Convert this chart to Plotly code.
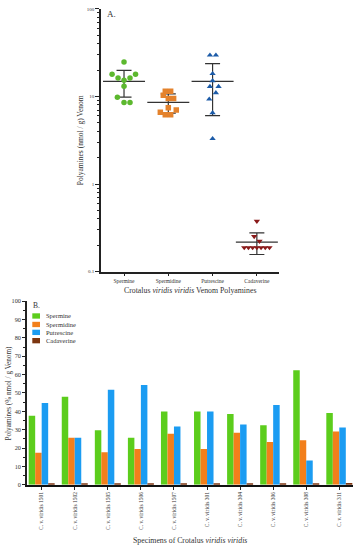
import plotly.graph_objects as go
import numpy as np

# ---------------- Panel A data (nmol / g venom) ----------------
amines = ["Spermine", "Spermidine", "Putrescine", "Cadaverine"]
spermine = [24.7, 17.9, 17.9, 16.3, 16.3, 15.3, 13.1, 9.8, 8.55, 8.55]
spermidine = [11.5, 11.5, 10.3, 9.5, 9.5, 7.45, 7.0, 6.6, 6.2, 6.2]
putrescine = [29.6, 29.6, 18.2, 15.1, 13.0, 13.0, 11.0, 9.3, 6.5, 3.3]
cadaverine = [0.376, 0.252, 0.222, 0.188, 0.188, 0.188, 0.188, 0.188, 0.188, 0.188]

# horizontal scatter offsets (category units) of the dot plot
jit_spermine = [0, -0.27, 0.26, -0.135, 0.135, 0, 0, -0.15, 0, 0.135]
jit_spermidine = [-0.068, 0.053, -0.113, 0, 0.12, 0, 0.18, -0.18, -0.068, 0.053]
jit_putrescine = [-0.06, 0.075, 0, 0, -0.06, 0.135, 0.075, -0.075, 0, 0]
jit_cadaverine = [0, -0.06, 0.06, -0.285, -0.19, -0.095, 0, 0.095, 0.19, 0.285]

# ---------------- Panel B data (% nmol / g venom) ----------------
specimens = ["C. v. viridis 1501", "C. v. viridis 1502", "C. v. viridis 1505",
             "C. v. viridis 1506", "C. v. viridis 1507", "C. v. viridis 301",
             "C. v. viridis 304", "C. v. viridis 306", "C. v. viridis 308",
             "C. v. viridis 311"]
pct_spermine = [37.6, 48.0, 29.7, 25.6, 39.9, 39.9, 38.5, 32.4, 62.4, 39.1]
pct_spermidine = [17.4, 25.6, 17.7, 19.5, 27.8, 19.5, 28.3, 23.3, 24.2, 29.0]
pct_putrescine = [44.6, 25.6, 51.8, 54.3, 31.7, 39.9, 32.8, 43.5, 13.3, 31.2]
pct_cadaverine = [0.5, 0.6, 0.5, 0.6, 0.6, 0.5, 0.6, 0.6, 0.5, 1.0]

W, H = 358, 550
FONT = "Liberation Serif"
TXT = "#333333"

def px(x):
    return x / W

def py(y):
    return 1 - y / H

fig = go.Figure()

# ---- Panel A: mean +/- SD ----
groups = [spermine, spermidine, putrescine, cadaverine]
means = [float(np.mean(g)) for g in groups]
sds = [float(np.std(g, ddof=1)) for g in groups]

fig.add_trace(go.Scatter(
    x=list(range(len(amines))), y=means, mode="markers",
    marker=dict(symbol="line-ew", size=30, line=dict(width=1.2, color="#333333")),
    error_y=dict(type="data", array=sds, visible=True, width=7.5,
                 thickness=1.2, color="#333333"),
    xaxis="x", yaxis="y", showlegend=False, hoverinfo="skip"))

styles = [
    (spermine, jit_spermine, "circle", "#5cb82e"),
    (spermidine, jit_spermidine, "square", "#e4822c"),
    (putrescine, jit_putrescine, "triangle-up", "#1c5ba8"),
    (cadaverine, jit_cadaverine, "triangle-down", "#8a1a1a"),
]
for i, (vals, jit, sym, col) in enumerate(styles):
    fig.add_trace(go.Scatter(
        x=[i + j for j in jit], y=vals, mode="markers",
        marker=dict(symbol=sym, size=5.5, color=col, line=dict(width=0)),
        xaxis="x", yaxis="y", showlegend=False, name=amines[i]))

# ---- Panel B: grouped bars ----
bar_sets = [
    ("Spermine", pct_spermine, "#5ccd1c"),
    ("Spermidine", pct_spermidine, "#f27f1b"),
    ("Putrescine", pct_putrescine, "#1b9cf2"),
    ("Cadaverine", pct_cadaverine, "#7c3510"),
]
for name, vals, col in bar_sets:
    fig.add_trace(go.Bar(
        x=specimens, y=vals, name=name, marker=dict(color=col, line=dict(width=0)),
        xaxis="x2", yaxis="y2", showlegend=False))

minor_log = [v * m for v in (0.1, 1, 10) for m in range(2, 10)]

fig.update_layout(
    width=W, height=H,
    margin=dict(l=0, r=0, t=0, b=0),
    paper_bgcolor="white", plot_bgcolor="white",
    font=dict(family=FONT, color=TXT),
    barmode="group", bargap=0.214, bargroupgap=0,
    xaxis=dict(domain=[px(101), px(279)], range=[-0.52, 3.5],
               tickmode="array", tickvals=list(range(len(amines))), ticktext=amines,
               tickfont=dict(size=5.5, color=TXT, family=FONT),
               ticks="outside", ticklen=3, tickwidth=1, tickcolor="#222",
               showline=True, linecolor="#222", linewidth=1.5,
               showgrid=False, zeroline=False, anchor="y"),
    yaxis=dict(domain=[py(271), py(5)], type="log", range=[-1, 2],
               tickmode="array", tickvals=[0.1, 1, 10, 100],
               ticktext=["0.1", "1", "10", "100"],
               tickfont=dict(size=5, color=TXT, family=FONT),
               ticks="outside", ticklen=4, tickwidth=1, tickcolor="#222",
               minor=dict(tickmode="array", tickvals=minor_log, ticks="outside",
                          ticklen=2, tickwidth=0.8, tickcolor="#222"),
               showline=True, linecolor="#222", linewidth=1.5,
               showgrid=False, zeroline=False, anchor="x"),
    xaxis2=dict(domain=[px(27), px(353)], range=[-0.444, 9.414],
                type="category",
                tickfont=dict(size=5.5, color=TXT, family=FONT), tickangle=-90,
                ticks="outside", ticklen=3, tickwidth=1, tickcolor="#222",
                showline=True, linecolor="#111", linewidth=2,
                showgrid=False, zeroline=False, anchor="y2"),
    yaxis2=dict(domain=[py(487), py(301)], range=[0, 100],
                tickmode="linear", tick0=0, dtick=10,
                tickfont=dict(size=6.3, color=TXT, family=FONT),
                ticks="outside", ticklen=3, tickwidth=1, tickcolor="#222",
                minor=dict(dtick=5, ticks="outside", ticklen=2, tickwidth=0.8,
                           tickcolor="#222"),
                showline=True, linecolor="#222", linewidth=1.5,
                showgrid=False, zeroline=False, anchor="x2"),
)

ann = []
ann.append(dict(text="A.", x=px(105), y=py(10), xref="paper", yref="paper",
                xanchor="left", yanchor="middle", showarrow=False,
                font=dict(size=9, color=TXT, family=FONT)))
ann.append(dict(text="Polyamines (nmol / g) Venom", x=px(80), y=py(138),
                xref="paper", yref="paper", textangle=-90, showarrow=False,
                xanchor="center", yanchor="middle",
                font=dict(size=7.5, color=TXT, family=FONT)))
ann.append(dict(text="Crotalus <i>viridis viridis</i> Venom Polyamines",
                x=px(190), y=py(290), xref="paper", yref="paper", showarrow=False,
                xanchor="center", yanchor="middle",
                font=dict(size=7.8, color=TXT, family=FONT)))
ann.append(dict(text="B.", x=px(31), y=py(305), xref="paper", yref="paper",
                xanchor="left", yanchor="middle", showarrow=False,
                font=dict(size=7.5, color=TXT, family=FONT)))
ann.append(dict(text="Polyamines (% nmol / g Venom)", x=px(8.5), y=py(394),
                xref="paper", yref="paper", textangle=-90, showarrow=False,
                xanchor="center", yanchor="middle",
                font=dict(size=7.2, color=TXT, family=FONT)))
ann.append(dict(text="Specimens of Crotalus <i>viridis viridis</i>",
                x=px(190), y=py(543), xref="paper", yref="paper", showarrow=False,
                xanchor="center", yanchor="middle",
                font=dict(size=7.8, color=TXT, family=FONT)))

# manual legend for panel B
shapes = []
leg_y = [316, 324.6, 332.6, 341]
for (name, vals, col), yy in zip(bar_sets, leg_y):
    shapes.append(dict(type="rect", xref="paper", yref="paper",
                       x0=px(32.3), x1=px(40), y0=py(yy + 2.7), y1=py(yy - 2.7),
                       fillcolor=col, line=dict(width=0)))
    ann.append(dict(text=name, x=px(44), y=py(yy), xref="paper", yref="paper",
                    xanchor="left", yanchor="middle", showarrow=False,
                    font=dict(size=6.5, color=TXT, family=FONT)))

fig.update_layout(annotations=ann, shapes=shapes)
fig.write_html("out.html",
               config={"displayModeBar": False},
               post_script="document.body.style.margin='0px';"
                           "document.body.style.overflow='hidden';")
